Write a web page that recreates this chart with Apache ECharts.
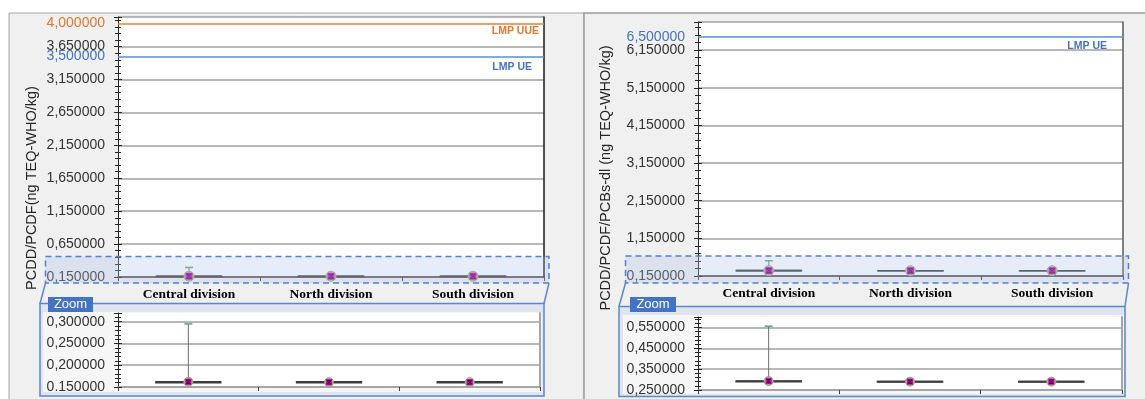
<!DOCTYPE html>
<html>
<head>
<meta charset="utf-8">
<script src="https://cdn.jsdelivr.net/npm/echarts@6/dist/echarts.min.js"></script>
<style>
  html, body { margin: 0; padding: 0; background: #ffffff; }
  #chart { width: 1145px; height: 399px; }
</style>
</head>
<body>
<div id="chart"></div>
<script>
// Sampling divisions
const categories = ['Central division', 'North division', 'South division'];

// PCDD/PCDF (ng TEQ-WHO/kg): box statistics per division
const pcddMin    = [0.160, 0.160, 0.160];
const pcddQ1     = [0.160, 0.160, 0.160];
const pcddMedian = [0.161, 0.161, 0.161];
const pcddQ3     = [0.162, 0.162, 0.162];
const pcddMax    = [0.295, 0.163, 0.163];
const pcddMean   = [0.162, 0.161, 0.161];
const pcddLimitUE  = 3.5;
const pcddLimitUUE = 4.0;

// PCDD/PCDF/PCBs-dl (ng TEQ-WHO/kg): box statistics per division
const dlMin    = [0.290, 0.289, 0.289];
const dlQ1     = [0.290, 0.289, 0.289];
const dlMedian = [0.292, 0.290, 0.290];
const dlQ3     = [0.293, 0.291, 0.291];
const dlMax    = [0.556, 0.292, 0.292];
const dlMean   = [0.293, 0.290, 0.290];
const dlLimitUE = 6.5;

// Tick labels
const pcddMainTicks = ['0,150000', '0,650000', '1,150000', '1,650000', '2,150000', '2,650000', '3,150000', '3,650000'];
const pcddZoomTicks = ['0.150000', '0,200000', '0,250000', '0,300000'];
const dlMainTicks   = ['0,150000', '1,150000', '2,150000', '3,150000', '4,150000', '5,150000', '6,150000'];
const dlZoomTicks   = ['0,250000', '0,350000', '0,450000', '0,550000'];

const SANS = '"Liberation Sans", Arial, sans-serif';
const SERIF = '"Liberation Serif", "Times New Roman", serif';

const fmt = v => v.toFixed(6).replace('.', ',');

function rows(mn, q1, med, q3, mx, mean) {
  return categories.map((c, i) => [i, q1[i], med[i], q3[i], mn[i], mx[i], mean[i]]);
}

function makeRender(markerR) {
  return function (params, api) {
    const i = api.value(0);
    const q1 = api.coord([i, api.value(1)]);
    const med = api.coord([i, api.value(2)]);
    const q3 = api.coord([i, api.value(3)]);
    const lo = api.coord([i, api.value(4)]);
    const hi = api.coord([i, api.value(5)]);
    const mean = api.coord([i, api.value(6)]);
    const band = api.size([1, 0])[0];
    const half = band * 0.23;
    const x = med[0];
    const s = markerR * 0.7;
    return {
      type: 'group',
      children: [
        { type: 'line', shape: { x1: x, y1: q3[1], x2: x, y2: hi[1] }, style: { stroke: '#6e6e6e', lineWidth: 1 } },
        { type: 'line', shape: { x1: x, y1: q1[1], x2: x, y2: lo[1] }, style: { stroke: '#6e6e6e', lineWidth: 1 } },
        { type: 'line', shape: { x1: x - 4, y1: hi[1], x2: x + 4, y2: hi[1] }, style: { stroke: '#4fa489', lineWidth: 1.5 } },
        { type: 'line', shape: { x1: x - 4, y1: lo[1], x2: x + 4, y2: lo[1] }, style: { stroke: '#4fa489', lineWidth: 1.5 } },
        { type: 'rect', shape: { x: x - half, y: q3[1], width: 2 * half, height: Math.max(q1[1] - q3[1], 0) },
          style: { fill: 'none', stroke: '#3c3c3c', lineWidth: 1.6 } },
        { type: 'line', shape: { x1: x - half, y1: med[1], x2: x + half, y2: med[1] }, style: { stroke: '#3c3c3c', lineWidth: 1.6 } },
        { type: 'circle', shape: { cx: mean[0], cy: mean[1], r: markerR }, style: { fill: '#c3bb78', stroke: '#8fae66', lineWidth: 1 } },
        { type: 'rect', shape: { x: mean[0] - s, y: mean[1] - s, width: 2 * s, height: 2 * s }, style: { fill: '#d400d4' } },
        { type: 'line', shape: { x1: mean[0] - s + 1, y1: mean[1] - s + 1.5, x2: mean[0] + s - 1, y2: mean[1] - s + 1.5 }, style: { stroke: '#3a0a3a', lineWidth: 1 } },
        { type: 'line', shape: { x1: mean[0] - s + 1, y1: mean[1] + s - 1.5, x2: mean[0] + s - 1, y2: mean[1] + s - 1.5 }, style: { stroke: '#3a0a3a', lineWidth: 1 } },
        { type: 'line', shape: { x1: mean[0] - s + 1, y1: mean[1] - s + 1.5, x2: mean[0] + s - 1, y2: mean[1] + s - 1.5 }, style: { stroke: '#3a0a3a', lineWidth: 0.8 } },
        { type: 'line', shape: { x1: mean[0] + s - 1, y1: mean[1] - s + 1.5, x2: mean[0] - s + 1, y2: mean[1] + s - 1.5 }, style: { stroke: '#3a0a3a', lineWidth: 0.8 } }
      ]
    };
  };
}

function valueAxes(gridIndex, min, max, interval, labels, borderColor, borderWidth, showMax) {
  const base = { type: 'value', gridIndex, min, max, interval, position: 'left', scale: true };
  return [
    Object.assign({}, base, {
      axisLine: { show: true, lineStyle: { color: '#262626', width: 1 } },
      axisTick: { show: true, length: 4, lineStyle: { color: '#262626' } },
      minorTick: { show: true, splitNumber: 5, length: 3, lineStyle: { color: '#262626' } },
      axisLabel: { show: true, margin: 13, color: '#333333', fontSize: 14, fontFamily: SANS,
        formatter: (v, i) => (labels[i] !== undefined ? labels[i] : '') },
      splitLine: { show: true, showMaxLine: showMax, lineStyle: { color: '#a0a0a0', width: 1.6 } },
      minorSplitLine: { show: false }
    }),
    Object.assign({}, base, {
      axisLine: { show: false },
      axisTick: { show: true, inside: true, length: 4, lineStyle: { color: '#262626' } },
      minorTick: { show: true, splitNumber: 5, length: 3, lineStyle: { color: '#262626' } },
      axisLabel: { show: false },
      splitLine: { show: false }
    }),
    Object.assign({}, base, {
      position: 'right',
      axisLine: { show: true, lineStyle: { color: borderColor, width: borderWidth } },
      axisTick: { show: false },
      axisLabel: { show: false },
      splitLine: { show: false }
    })
  ];
}

function catAxis(gridIndex, showLabels, lineColor) {
  return {
    type: 'category', gridIndex, data: categories, boundaryGap: true,
    axisLine: { show: true, onZero: false, lineStyle: { color: lineColor, width: 1.5 } },
    axisTick: { show: true, length: 4, lineStyle: { color: '#404040' } },
    axisLabel: { show: showLabels, margin: 11, color: '#000', fontFamily: SERIF, fontWeight: 'bold', fontSize: 13.5 },
    splitLine: { show: false }
  };
}

function limitLines(items) {
  const data = [];
  items.forEach(it => {
    data.push({
      yAxis: it.value,
      lineStyle: { color: it.lineColor, width: 1.5, type: 'solid' },
      label: { show: true, position: 'start', distance: 13, formatter: fmt(it.value),
        color: it.textColor, fontSize: 14, fontFamily: SANS }
    });
    data.push({
      yAxis: it.value,
      lineStyle: { color: 'rgba(0,0,0,0)', width: 0 },
      label: { show: true, position: 'insideEndBottom', distance: it.dist, formatter: it.name,
        color: it.textColor, fontSize: 10.5, fontWeight: 'bold', fontFamily: SANS }
    });
  });
  return { silent: true, symbol: 'none', animation: false, data };
}

const pcddRows = rows(pcddMin, pcddQ1, pcddMedian, pcddQ3, pcddMax, pcddMean);
const dlRows = rows(dlMin, dlQ1, dlMedian, dlQ3, dlMax, dlMean);

const yAxes = [].concat(
  valueAxes(0, 0.15, 4.1, 0.5, pcddMainTicks, '#1a1a1a', 1.5, true),
  valueAxes(1, 0.15, 0.32, 0.05, pcddZoomTicks, '#a6a6a6', 2, false),
  valueAxes(2, 0.15, 6.9, 1, dlMainTicks, '#595959', 1.5, true),
  valueAxes(3, 0.25, 0.6, 0.1, dlZoomTicks, '#a6a6a6', 2, false)
);

const panelText = { fill: '#262626', font: '14.5px ' + SANS, textAlign: 'center', textVerticalAlign: 'middle' };

const option = {
  animation: false,
  backgroundColor: '#ffffff',
  grid: [
    { left: 118, top: 17, width: 426, height: 260, show: true, backgroundColor: '#ffffff', borderWidth: 0 },
    { left: 118, top: 313, width: 422, height: 74, show: true, backgroundColor: '#ffffff', borderWidth: 0 },
    { left: 698, top: 22, width: 425, height: 254, show: true, backgroundColor: '#ffffff', borderWidth: 0 },
    { left: 698, top: 317, width: 424, height: 73, show: true, backgroundColor: '#ffffff', borderWidth: 0 }
  ],
  xAxis: [
    catAxis(0, true, '#404040'),
    catAxis(1, false, '#a0a0a0'),
    catAxis(2, true, '#404040'),
    catAxis(3, false, '#a0a0a0')
  ],
  yAxis: yAxes,
  series: [
    {
      type: 'custom', xAxisIndex: 0, yAxisIndex: 0, data: pcddRows, renderItem: makeRender(5), z: 3,
      markLine: limitLines([
        { value: pcddLimitUUE, name: 'LMP UUE', lineColor: '#ed7d31', textColor: '#e0782c', dist: [5, 2] },
        { value: pcddLimitUE, name: 'LMP UE', lineColor: '#5b8fd3', textColor: '#4472c4', dist: [12, 5] }
      ])
    },
    { type: 'custom', xAxisIndex: 1, yAxisIndex: 3, data: pcddRows, renderItem: makeRender(4.5), z: 3 },
    {
      type: 'custom', xAxisIndex: 2, yAxisIndex: 6, data: dlRows, renderItem: makeRender(5), z: 3,
      markLine: limitLines([
        { value: dlLimitUE, name: 'LMP UE', lineColor: '#5b8fd3', textColor: '#4472c4', dist: [16, 4] }
      ])
    },
    { type: 'custom', xAxisIndex: 3, yAxisIndex: 9, data: dlRows, renderItem: makeRender(4.5), z: 3 }
  ],
  graphic: [
    // panel backgrounds
    { type: 'rect', z: -20, shape: { x: 9, y: 13, width: 575, height: 392 }, style: { fill: '#f0f0f0', stroke: '#a3a3a3', lineWidth: 1 } },
    { type: 'rect', z: -20, shape: { x: 584, y: 13, width: 570, height: 392 }, style: { fill: '#f0f0f0', stroke: '#9a9a9a', lineWidth: 1.5 } },
    // zoom panels
    { type: 'rect', z: -10, shape: { x: 40, y: 303.5, width: 504, height: 92.5 }, style: { fill: '#dee5ef', stroke: '#5b87cf', lineWidth: 1.5 } },
    { type: 'rect', z: -9, shape: { x: 43, y: 312, width: 499, height: 80 }, style: { fill: '#f6f6f6' } },
    { type: 'rect', z: -10, shape: { x: 619, y: 306.5, width: 506, height: 90 }, style: { fill: '#dee5ef', stroke: '#5b87cf', lineWidth: 1.5 } },
    { type: 'rect', z: -9, shape: { x: 623, y: 315, width: 501, height: 79 }, style: { fill: '#f6f6f6' } },
    // highlighted low range
    { type: 'rect', z: 50, shape: { x: 45.5, y: 256.5, width: 503.5, height: 26.5 },
      style: { fill: 'rgba(176,196,232,0.30)', stroke: '#4f81d0', lineWidth: 1.5, lineDash: [6, 4] } },
    { type: 'rect', z: 50, shape: { x: 625.5, y: 256, width: 503, height: 27 },
      style: { fill: 'rgba(176,196,232,0.30)', stroke: '#4f81d0', lineWidth: 1.5, lineDash: [6, 4] } },
    { type: 'line', z: 50, shape: { x1: 45.5, y1: 283, x2: 40, y2: 303.5 }, style: { stroke: '#5b87cf', lineWidth: 1.5 } },
    { type: 'line', z: 50, shape: { x1: 549, y1: 283, x2: 544, y2: 303.5 }, style: { stroke: '#5b87cf', lineWidth: 1.5 } },
    { type: 'line', z: 50, shape: { x1: 625.5, y1: 283, x2: 619, y2: 306.5 }, style: { stroke: '#5b87cf', lineWidth: 1.5 } },
    { type: 'line', z: 50, shape: { x1: 1128.5, y1: 283, x2: 1125, y2: 306.5 }, style: { stroke: '#5b87cf', lineWidth: 1.5 } },
    // zoom tabs
    { type: 'rect', z: 60, shape: { x: 48, y: 297, width: 45, height: 15 }, style: { fill: '#4472c4' } },
    { type: 'text', z: 61, x: 70.5, y: 304.5, style: { text: 'Zoom', fill: '#ffffff', font: '13px ' + SANS, textAlign: 'center', textVerticalAlign: 'middle' } },
    { type: 'rect', z: 60, shape: { x: 630, y: 297, width: 46, height: 15 }, style: { fill: '#4472c4' } },
    { type: 'text', z: 61, x: 653, y: 304.5, style: { text: 'Zoom', fill: '#ffffff', font: '13px ' + SANS, textAlign: 'center', textVerticalAlign: 'middle' } },
    // axis titles
    { type: 'text', z: 5, x: 32, y: 188, rotation: Math.PI / 2, style: Object.assign({ text: 'PCDD/PCDF(ng TEQ-WHO/kg)' }, panelText) },
    { type: 'text', z: 5, x: 606, y: 178, rotation: Math.PI / 2, style: Object.assign({ text: 'PCDD/PCDF/PCBs-dl (ng TEQ-WHO/kg)' }, panelText) }
  ]
};

const chart = echarts.init(document.getElementById('chart'), null, { renderer: 'canvas' });
chart.setOption(option);
</script>
</body>
</html>
